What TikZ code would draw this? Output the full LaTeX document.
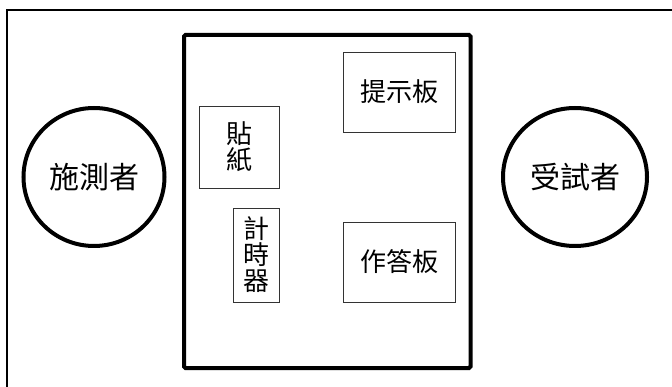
\documentclass[tikz,border=0pt]{standalone}
\usepackage{fontspec}
\newfontfamily\cjk{Noto Sans CJK TC}
\usetikzlibrary{shapes.geometric}
\begin{document}
\begin{tikzpicture}[x=1pt,y=-1pt,
  person/.style={ellipse,draw=black,line width=4pt,inner sep=0pt,font=\cjk\fontsize{30}{30}\selectfont},
  item/.style={rectangle,draw=black!80,line width=0.8pt,inner sep=0pt,align=center,font=\cjk\fontsize{26}{26}\selectfont},
  table/.style={draw=black,line width=4pt,rounded corners=1.5pt}]
\useasboundingbox (0,0) rectangle (672,387);
% outer frame (top and left edges)
\coordinate (fTL) at (7,10);
\coordinate (fTR) at (672,10);
\coordinate (fBL) at (7,387);
\draw[line width=2pt] (fTR) -- (fTL) -- (fBL);
% table
\node[table,minimum width=286.5pt,minimum height=333pt,inner sep=0pt] (tbl) at (327.25,201.5) {};
% people
\node[person,minimum width=141pt,minimum height=138pt] (tester) at (94,177) {施測者};
\node[person,minimum width=144pt,minimum height=138pt] (subject) at (575,177) {受試者};
% items
\node[item,minimum width=80pt,minimum height=82pt] (sticker) at (239,147) {貼\\紙};
\node[item,minimum width=46pt,minimum height=94pt] (timer) at (256,255) {計\\時\\器};
\node[item,minimum width=112pt,minimum height=80pt] (prompt) at (399,92) {提示板};
\node[item,minimum width=112pt,minimum height=80pt] (answer) at (399,262) {作答板};
\end{tikzpicture}
\end{document}
